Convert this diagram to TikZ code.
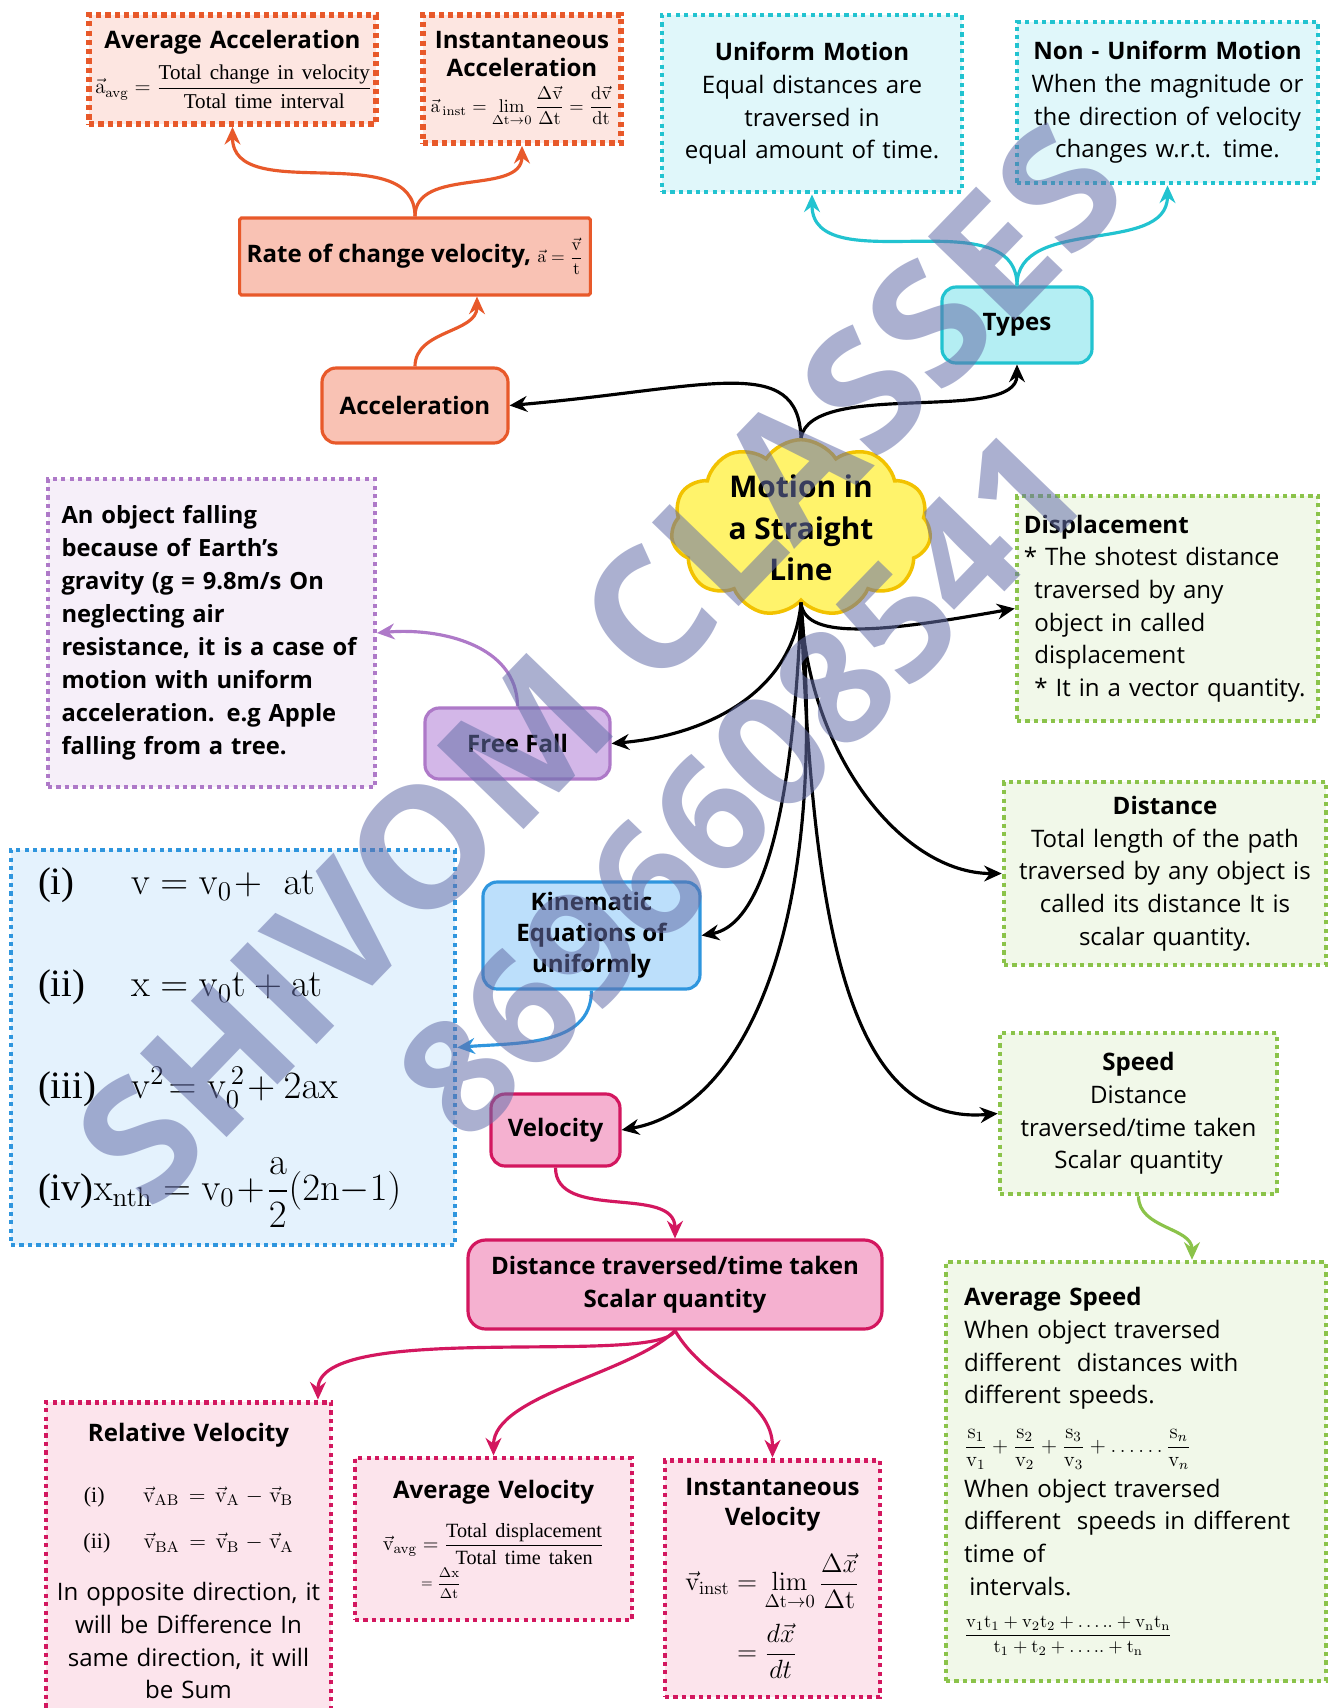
\documentclass[tikz,border=0pt]{standalone}
\usepackage{fix-cm}
\usepackage[no-math]{fontspec}
\usepackage{amsmath}
\usepackage{tikz}
\usetikzlibrary{arrows.meta,shapes.symbols}

\setmainfont{Open Sans}
\newfontfamily\frmfont{Liberation Serif}
\newcommand\bodyfont{\fontsize{13.7}{18.6}\selectfont}
\newcommand\vc[1]{\vec{\mathrm{#1}}}

\definecolor{accline}{HTML}{E8592A}
\definecolor{accfill}{HTML}{FDE6E1}
\definecolor{accbox}{HTML}{F9C2B4}
\definecolor{typline}{HTML}{22C3D0}
\definecolor{typfill}{HTML}{E0F7FA}
\definecolor{typbox}{HTML}{B4EEF3}
\definecolor{cloudline}{HTML}{F2C200}
\definecolor{cloudfill}{HTML}{FFF36B}
\definecolor{grnline}{HTML}{8BC34A}
\definecolor{grnfill}{HTML}{F1F8E9}
\definecolor{purline}{HTML}{AE79C8}
\definecolor{purfill}{HTML}{F6EFF9}
\definecolor{purbox}{HTML}{D3B7E8}
\definecolor{bluline}{HTML}{2F96DE}
\definecolor{blufill}{HTML}{E4F2FD}
\definecolor{blubox}{HTML}{BCDFFB}
\definecolor{pnkline}{HTML}{D3175F}
\definecolor{pnkfill}{HTML}{FCE4EC}
\definecolor{pnkbox}{HTML}{F5B1D0}
\definecolor{wmcolor}{RGB}{102,112,170}

\begin{document}
\begin{tikzpicture}[x=0.02cm, y=-0.02cm,
    dotbox/.style={draw, line width=2.6pt, dash pattern=on 2.4pt off 2.4pt, inner sep=0pt, align=center, font=\bodyfont},
    solidbox/.style={draw, line width=1.8pt, rounded corners=8pt, inner sep=4pt, align=center, font=\bodyfont\bfseries},
    arr/.style={draw, line width=1.8pt, -{Stealth[length=10pt,width=9pt]}},
    wmark/.style={text=wmcolor, text opacity=0.55, inner sep=0pt, rotate=46}]
    \fill[white] (0,0) rectangle (1328,1708);
    \useasboundingbox (0,0) rectangle (1328,1708);

    % acceleration branch
    \node[dotbox, draw=accline, fill=accfill, line width=3.3pt, dash pattern=on 3pt off 2.3pt, minimum width=5.74cm, minimum height=2.18cm, text width=5.5cm] (avgacc) at (232.5,69.5)
        {\textbf{Average Acceleration}\\[5pt]
         {\frmfont\fontsize{12}{14}\selectfont \mbox{$\vc a_{\mathrm{avg}}=\dfrac{\mbox{Total change in velocity}}{\mbox{Total time interval}}$}}};
    \node[dotbox, draw=accline, fill=accfill, line width=3.3pt, dash pattern=on 3pt off 2.3pt, minimum width=3.96cm, minimum height=2.56cm, text width=3.8cm, font=\fontsize{13.7}{15.5}\selectfont] (instacc) at (522,79)
        {\textbf{Instantaneous}\\\textbf{Acceleration}\\[5pt]
         {\fontsize{10.5}{12}\selectfont \mbox{$\vc a_{\,\mathrm{inst}}=\lim\limits_{\Delta\mathrm t\to0}\dfrac{\Delta\vc v}{\Delta\mathrm t}=\dfrac{\mathrm d\vc v}{\mathrm{dt}}$}}};
    \node[solidbox, draw=accline, fill=accbox, rounded corners=1pt, minimum width=7.0cm, minimum height=1.54cm] (rate) at (415,256.5)
        {Rate of change velocity, {\fontsize{10}{12}\selectfont$\vc a=\dfrac{\vc v}{\mathrm t}$}};
    \node[solidbox, draw=accline, fill=accbox, minimum width=3.72cm, minimum height=1.5cm] (accel) at (415,405.5) {Acceleration};

    % types branch
    \node[dotbox, draw=typline, fill=typfill, line width=2.8pt, minimum width=6.0cm, minimum height=3.54cm, text width=5.8cm] (uniform) at (812,103.5)
        {\textbf{Uniform Motion}\\Equal distances are\\traversed in\\equal amount of time.};
    \node[dotbox, draw=typline, fill=typfill, line width=2.8pt, minimum width=6.02cm, minimum height=3.22cm, text width=5.9cm] (nonuni) at (1167.5,102.5)
        {\textbf{Non - Uniform Motion}\\When the magnitude or\\the direction of velocity\\changes w.r.t. time.};
    \node[solidbox, draw=typline, fill=typbox, minimum width=3.0cm, minimum height=1.52cm] (types) at (1017,325) {Types};

    % centre
    \node[cloud, cloud puffs=11, cloud puff arc=115, aspect=1.45, draw=cloudline, fill=cloudfill, line width=2pt, minimum width=5.2cm, minimum height=3.5cm, inner sep=0pt, align=center, font=\fontsize{17}{23.5}\selectfont\bfseries] (cloud) at (801,528)
        {Motion in\\a Straight\\Line};

    % right column
    \node[dotbox, draw=grnline, fill=grnfill, minimum width=6.02cm, minimum height=4.5cm, text width=5.75cm, align=left] (displ) at (1167.5,608.5)
        {\textbf{Displacement}\\{}* The shotest distance\\\hspace*{6pt}traversed by any\\\hspace*{6pt}object in called\\\hspace*{6pt}displacement\\\hspace*{6pt}* It in a vector quantity.};
    \node[dotbox, draw=grnline, fill=grnfill, minimum width=6.44cm, minimum height=3.66cm, text width=6.2cm] (dist) at (1165,873.5)
        {\textbf{Distance}\\Total length of the path\\traversed by any object is\\called its distance It is\\scalar quantity.};
    \node[dotbox, draw=grnline, fill=grnfill, minimum width=5.54cm, minimum height=3.22cm, text width=5.3cm] (speed) at (1138.5,1113.5)
        {\textbf{Speed}\\Distance\\traversed/time taken\\Scalar quantity};
    \node[dotbox, draw=grnline, fill=grnfill, minimum width=7.6cm, minimum height=8.38cm, text width=6.88cm, align=left] (avgspeed) at (1136,1471.5)
        {\textbf{Average Speed}\\When object traversed\\different\ \ distances with\\different speeds.\\[9pt]
         {\frmfont\fontsize{12}{14}\selectfont $\dfrac{\mathrm s_1}{\mathrm v_1}+\dfrac{\mathrm s_2}{\mathrm v_2}+\dfrac{\mathrm s_3}{\mathrm v_3}+\ldots\ldots\dfrac{\mathrm s_n}{\mathrm v_n}$}\\[4pt]
         When object traversed\\different\ \ speeds in different\\time of\\\hspace*{3pt}intervals.\\[7pt]
         {\fontsize{10.5}{12}\selectfont $\dfrac{\mathrm{v_1t_1+v_2t_2+\ldots..+v_nt_n}}{\mathrm{t_1+t_2+\ldots..+t_n}}$}};

    % left column
    \node[dotbox, draw=purline, fill=purfill, line width=2.2pt, minimum width=6.54cm, minimum height=6.16cm, text width=6.0cm, align=left, font=\fontsize{13.5}{18.8}\selectfont\bfseries] (falldesc) at (211.5,633)
        {An object falling\\because of Earth’s\\gravity (g = 9.8m/s On\\neglecting air\\resistance, it is a case of\\motion with uniform\\acceleration. e.g Apple\\falling from a tree.};
    \node[solidbox, draw=purline, fill=purbox, minimum width=3.7cm, minimum height=1.42cm] (freefall) at (517.5,743.5) {Free Fall};
    \node[dotbox, draw=bluline, fill=blufill, minimum width=8.88cm, minimum height=7.9cm, text width=7.8cm, align=left, font=\frmfont\fontsize{22}{58}\selectfont] (eqbox) at (233,1047.5)
        {\makebox[1.86cm][l]{(i)}$\mathrm{v = v_0\!+\ at}$\\
         \makebox[1.86cm][l]{(ii)}$\mathrm{x = v_0t + at}$\\
         \makebox[1.86cm][l]{(iii)}$\mathrm{v^2\!= v_0^{\,2}\!+ 2ax}$\\
         (iv)$\mathrm{x_{nth} = v_0\!+\!\dfrac{a}{2}(2n{-}1)}$};
    \node[solidbox, draw=bluline, fill=blubox, minimum width=4.34cm, minimum height=2.14cm, font=\fontsize{13.7}{17.6}\selectfont\bfseries] (kinem) at (591.5,935.5)
        {Kinematic\\Equations of\\uniformly};

    % velocity branch
    \node[solidbox, draw=pnkline, fill=pnkbox, minimum width=2.58cm, minimum height=1.44cm] (velocity) at (555.5,1130) {Velocity};
    \node[solidbox, draw=pnkline, fill=pnkbox, rounded corners=10pt, minimum width=8.28cm, minimum height=1.78cm] (disttime) at (675,1284.5)
        {Distance traversed/time taken\\Scalar quantity};
    \node[dotbox, draw=pnkline, fill=pnkfill, line width=2.8pt, minimum width=5.7cm, minimum height=6.36cm, text width=5.3cm] (relvel) at (188.5,1561)
        {\textbf{Relative Velocity}\\[16pt]
         {\frmfont\fontsize{12.5}{14}\selectfont (i)\hspace{22pt}$\vc v_{\mathrm{AB}}=\vc v_{\mathrm A}-\vc v_{\mathrm B}$}\\[8pt]
         {\frmfont\fontsize{12.5}{14}\selectfont (ii)\hspace{19pt}$\vc v_{\mathrm{BA}}=\vc v_{\mathrm B}-\vc v_{\mathrm A}$}\\[11pt]
         In opposite direction, it\\will be Difference In\\same direction, it will\\be Sum};
    \node[dotbox, draw=pnkline, fill=pnkfill, line width=2.8pt, minimum width=5.54cm, minimum height=3.24cm, text width=5.2cm] (avgvel) at (493.5,1539)
        {\textbf{Average Velocity}\\[10pt]
         {\frmfont\fontsize{11.5}{14}\selectfont \mbox{$\vc v_{\mathrm{avg}}=\dfrac{\mbox{Total displacement}}{\mbox{Total time taken}}$}}\\[1pt]
         \makebox[4.6cm][l]{\hspace{0.85cm}\fontsize{8}{10}\selectfont$=\dfrac{\Delta\mathrm x}{\Delta\mathrm t}$}};
    \node[dotbox, draw=pnkline, fill=pnkfill, line width=2.8pt, minimum width=4.3cm, minimum height=4.74cm, text width=4.1cm, font=\fontsize{13.7}{17}\selectfont] (instvel) at (772.5,1578.5)
        {\textbf{Instantaneous}\\\textbf{Velocity}\\[12pt]
         {\fontsize{15}{17}\selectfont $\begin{aligned}\vc v_{\mathrm{inst}}&=\lim_{\Delta\mathrm t\to0}\frac{\Delta\vec x}{\Delta\mathrm t}\\[4pt]&=\frac{d\vec x}{dt}\end{aligned}$}};

    % connectors from the centre
    \draw[arr] (cloud.north) to[out=92, in=5, out distance=1.7cm, in distance=4cm] (accel.east);
    \draw[arr] (cloud.north) to[out=80, in=-90, out distance=1.2cm, in distance=1.2cm] (types.south);
    \draw[arr] (cloud.south) to[out=-85, in=190, out distance=0.8cm, in distance=2.5cm] (displ.west);
    \draw[arr] (cloud.south) to[out=-95, in=5] (freefall.east);
    \draw[arr] (cloud.south) to[out=-92, in=10, out distance=3cm, in distance=1.5cm] (kinem.east);
    \draw[arr] (cloud.south) to[out=-88, in=180, out distance=3cm, in distance=2cm] (dist.west);
    \draw[arr] (cloud.south) to[out=-85, in=10, out distance=6.5cm, in distance=2.5cm] (velocity.east);
    \draw[arr] (cloud.south) to[out=-88, in=185, out distance=6.5cm, in distance=3cm] (speed.west);

    % coloured connectors
    \draw[arr, accline] (accel.north) to[out=90, in=-90] ([xshift=1.24cm]rate.south);
    \draw[arr, accline] (rate.north) to[out=90, in=-90] (avgacc.south);
    \draw[arr, accline] (rate.north) to[out=90, in=-90] (instacc.south);
    \draw[arr, typline] (types.north) to[out=90, in=-90] (uniform.south);
    \draw[arr, typline] (types.north) to[out=90, in=-90] (nonuni.south);
    \draw[arr, purline] (freefall.north) to[out=90, in=5] (falldesc.east);
    \draw[arr, bluline] (kinem.south) to[out=-90, in=5] (eqbox.east);
    \draw[arr, pnkline] (velocity.south) to[out=-90, in=90] (disttime.north);
    \draw[arr, pnkline] (disttime.south) to[out=-115, in=90, out distance=0.8cm, in distance=1.6cm] ([xshift=2.59cm]relvel.north);
    \draw[arr, pnkline] (disttime.south) to[out=-135, in=90, out distance=1.2cm, in distance=1.2cm] (avgvel.north);
    \draw[arr, pnkline] (disttime.south) to[out=-60, in=90, out distance=1.2cm, in distance=1.2cm] (instvel.north);
    \draw[arr, grnline] (speed.south) to[out=-90, in=90] ([xshift=1.12cm]avgspeed.north);

    % watermark
    \node[wmark, font=\fontsize{96}{96}\selectfont\bfseries] (wmname) at (600,664) {SHIVOM CLASSES};
    \node[wmark, font=\fontsize{90}{90}\selectfont\bfseries] (wmphone) at (741,784) {8696608541};
\end{tikzpicture}
\end{document}
